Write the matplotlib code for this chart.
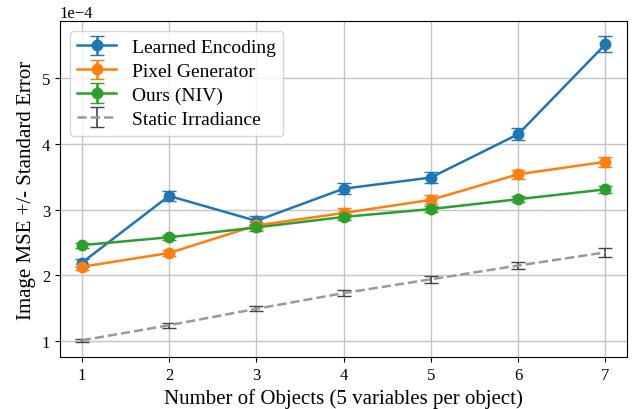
import numpy as np
import matplotlib
matplotlib.use("Agg")
import matplotlib.pyplot as plt

plt.rcParams['font.family'] = ['Liberation Serif', 'DejaVu Serif']

n_objects = [1, 2, 3, 4, 5, 6, 7]

learned_mean = np.array([2.19, 3.21, 2.83, 3.32, 3.49, 4.15, 5.52]) * 1e-4
learned_err = np.array([0.06, 0.07, 0.07, 0.08, 0.09, 0.09, 0.12]) * 1e-4

pixel_mean = np.array([2.13, 2.34, 2.76, 2.95, 3.15, 3.54, 3.73]) * 1e-4
pixel_err = np.array([0.05, 0.05, 0.06, 0.07, 0.07, 0.07, 0.08]) * 1e-4

ours_mean = np.array([2.46, 2.58, 2.73, 2.89, 3.01, 3.16, 3.31]) * 1e-4
ours_err = np.array([0.04, 0.04, 0.05, 0.05, 0.05, 0.05, 0.05]) * 1e-4

static_mean = np.array([1.01, 1.24, 1.49, 1.73, 1.94, 2.15, 2.35]) * 1e-4
static_err = np.array([0.02, 0.04, 0.04, 0.05, 0.05, 0.06, 0.07]) * 1e-4

fig, ax = plt.subplots(figsize=(6.44, 4.1), dpi=100)

ax.errorbar(n_objects, learned_mean, yerr=learned_err, marker='o', markersize=7.5,
            capsize=5, linewidth=1.8, color='tab:blue', label='Learned Encoding')
ax.errorbar(n_objects, pixel_mean, yerr=pixel_err, marker='o', markersize=7.5,
            capsize=5, linewidth=1.8, color='tab:orange', label='Pixel Generator')
ax.errorbar(n_objects, ours_mean, yerr=ours_err, marker='o', markersize=7.5,
            capsize=5, linewidth=1.8, color='tab:green', label='Ours (NIV)')
ax.errorbar(n_objects, static_mean, yerr=static_err, linestyle='--', linewidth=1.8,
            color='#999999', ecolor='#444444', elinewidth=1.2, capsize=5,
            label='Static Irradiance')

ax.set_xlim(0.75, 7.25)
ax.ticklabel_format(axis='y', style='sci', scilimits=(0, 0))
ax.yaxis.get_offset_text().set_fontsize(12)
ax.tick_params(labelsize=12)
ax.grid(True, color='#c4c4c4', linewidth=1.0)
ax.set_axisbelow(True)

ax.set_xlabel('Number of Objects (5 variables per object)', fontsize=15)
ax.set_ylabel('Image MSE +/- Standard Error', fontsize=15)
ax.legend(loc='upper left', fontsize=14, handlelength=2, borderpad=0.4,
          labelspacing=0.32)

fig.subplots_adjust(left=0.093, right=0.974, top=0.946, bottom=0.127)
fig.savefig('out.png', dpi=100)
